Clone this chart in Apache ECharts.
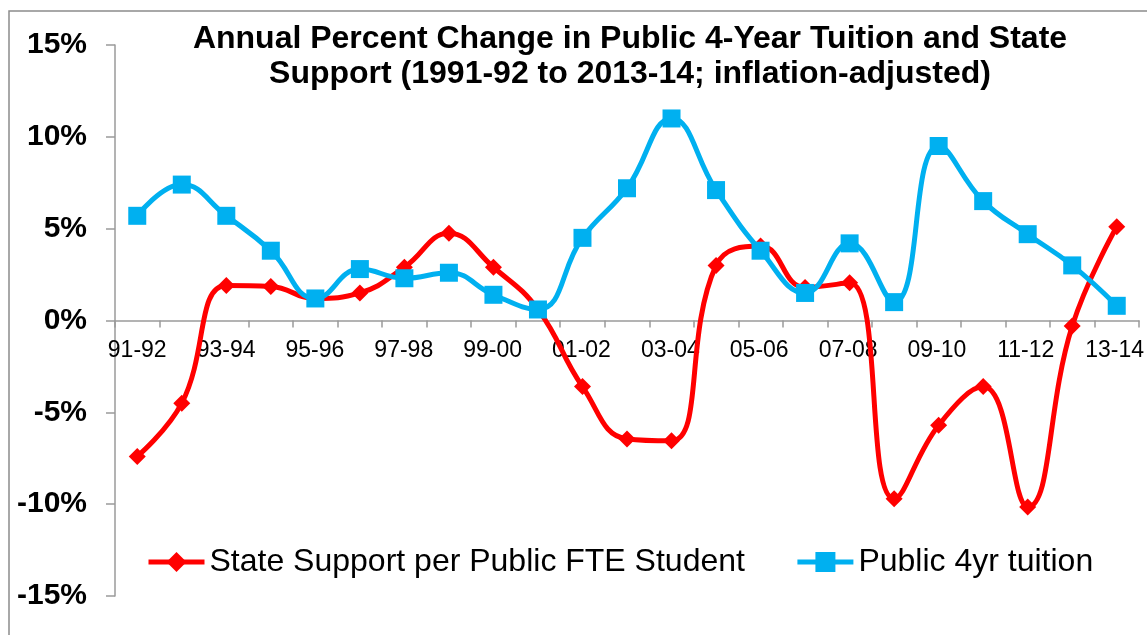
<!DOCTYPE html>
<html>
<head>
<meta charset="utf-8">
<script src="https://cdn.jsdelivr.net/npm/echarts@6/dist/echarts.min.js"></script>
<style>
  html, body { margin: 0; padding: 0; background: #fff; }
  #chart { width: 1147px; height: 635px; }
</style>
</head>
<body>
<div id="chart"></div>
<script>
// school years, 1991-92 .. 2013-14
var years = ['91-92','92-93','93-94','94-95','95-96','96-97','97-98','98-99','99-00','00-01',
             '01-02','02-03','03-04','04-05','05-06','06-07','07-08','08-09','09-10','10-11',
             '11-12','12-13','13-14'];
// annual % change
var stateSupport = [-7.4, -4.5, 1.9, 1.85, 1.2, 1.5, 2.9, 4.75, 2.9, 0.6,
                    -3.6, -6.45, -6.55, 3.0, 4.05, 1.8, 2.05, -9.7, -5.7, -3.6,
                    -10.15, -0.3, 5.1];
var tuition = [5.7, 7.4, 5.7, 3.8, 1.2, 2.8, 2.3, 2.6, 1.4, 0.6,
               4.5, 7.2, 11.0, 7.1, 3.8, 1.5, 4.2, 1.0, 9.5, 6.5,
               4.7, 3.0, 0.8];

var chart = echarts.init(document.getElementById('chart'));
var font = 'Liberation Sans, Arial, sans-serif';
var axisGray = '#9a9a9a';
var option = {
    animation: false,
    title: {
        text: 'Annual Percent Change in Public 4-Year Tuition and State\nSupport (1991-92 to 2013-14; inflation-adjusted)',
        left: 625,
        top: 17,
        textAlign: 'center',
        textStyle: { fontFamily: font, fontSize: 32, fontWeight: 'bold', color: '#000', lineHeight: 35, align: 'center' }
    },
    graphic: [{
        type: 'rect',
        shape: { x: 9, y: 11, width: 1150, height: 640 },
        style: { fill: 'none', stroke: '#8c8c8c', lineWidth: 1.5 },
        silent: true
    }],
    legend: {
        data: ['State Support per Public FTE Student', 'Public 4yr tuition'],
        left: 141,
        top: 541,
        itemWidth: 56,
        itemHeight: 25,
        itemGap: 50,
        lineStyle: { width: 5 },
        textStyle: { fontFamily: font, fontSize: 32, color: '#000' }
    },
    grid: [
        { left: 115, right: 8, top: 45, bottom: 39 },
        // upper half only, so its bottom labels sit under the zero line
        { left: 115, right: 8, top: 45, height: 275.5 }
    ],
    xAxis: [{
        type: 'category',
        data: years,
        gridIndex: 0,
        boundaryGap: true,
        axisLine: { onZero: true, lineStyle: { color: axisGray, width: 1.5 } },
        axisTick: { show: true, interval: 0, length: 7, lineStyle: { color: axisGray, width: 1.5 } },
        axisLabel: { show: false },
        splitLine: { show: false }
    }, {
        type: 'category',
        data: years,
        gridIndex: 1,
        boundaryGap: true,
        axisLine: { show: false },
        axisTick: { show: false },
        axisLabel: { interval: 1, fontFamily: font, fontSize: 23, color: '#000', margin: 19 },
        splitLine: { show: false }
    }],
    yAxis: [{
        type: 'value',
        gridIndex: 0,
        min: -15,
        max: 15,
        interval: 5,
        axisLine: { show: true, lineStyle: { color: axisGray, width: 1.5 } },
        axisTick: { show: true, length: 9, lineStyle: { color: axisGray, width: 1.5 } },
        axisLabel: { formatter: '{value}%', fontFamily: font, fontSize: 30, fontWeight: 'bold', color: '#000', margin: 28 },
        splitLine: { show: false }
    }, {
        type: 'value',
        gridIndex: 1,
        show: false
    }],
    series: [{
        name: 'State Support per Public FTE Student',
        type: 'line',
        data: stateSupport,
        smooth: 0.45,
        symbol: 'diamond',
        symbolSize: 17,
        lineStyle: { color: '#ff0000', width: 5 },
        itemStyle: { color: '#ff0000' },
        z: 2
    }, {
        name: 'Public 4yr tuition',
        type: 'line',
        data: tuition,
        smooth: 0.45,
        symbol: 'rect',
        symbolSize: 18,
        lineStyle: { color: '#00b0f0', width: 5 },
        itemStyle: { color: '#00b0f0' },
        z: 3
    }]
};
chart.setOption(option);
</script>
</body>
</html>
